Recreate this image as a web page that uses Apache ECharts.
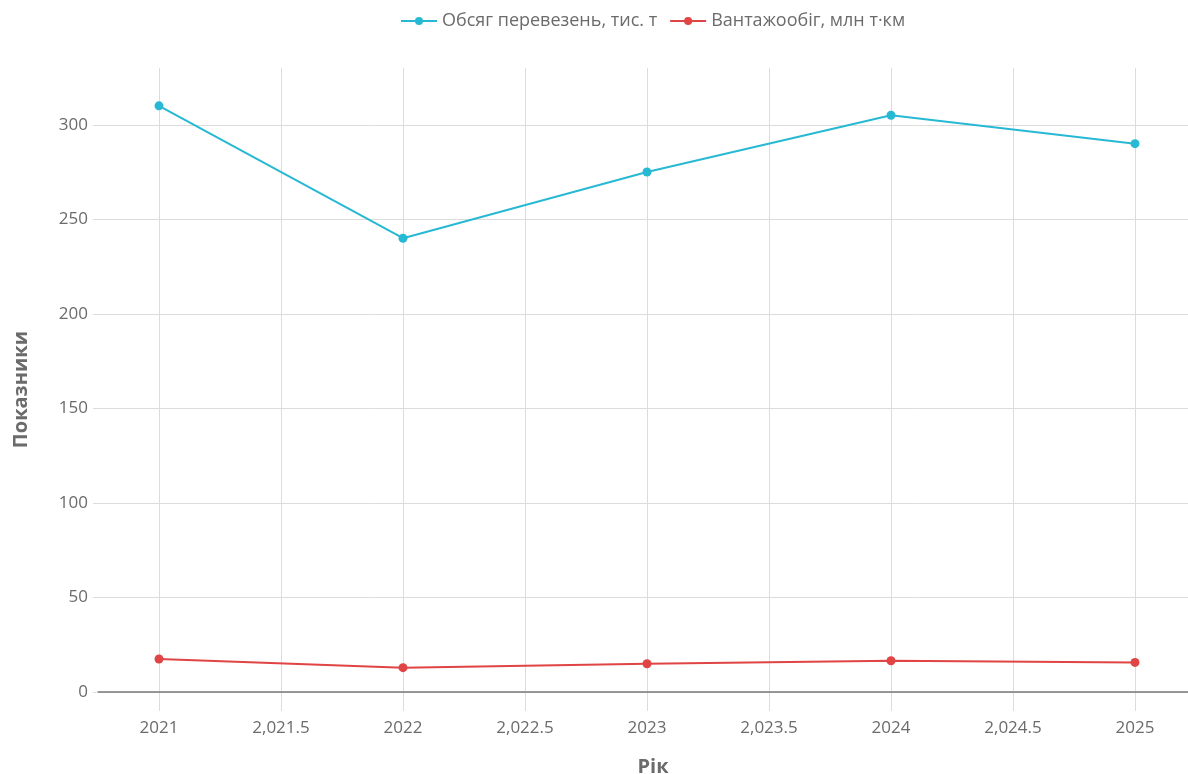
<!DOCTYPE html>
<html>
<head>
<meta charset="utf-8">
<script src="https://cdn.jsdelivr.net/npm/echarts@6/dist/echarts.min.js"></script>
<style>
html, body { margin: 0; padding: 0; background: #fff; }
#main { width: 1188px; height: 774px; }
</style>
</head>
<body>
<div id="main"></div>
<script>
var myChart = echarts.init(document.getElementById('main'));

// data
var years = [2021, 2022, 2023, 2024, 2025];
var volume = [310, 240, 275, 305, 290];        // Обсяг перевезень, тис. т
var turnover = [17.5, 12.9, 15.0, 16.6, 15.7]; // Вантажообіг, млн т·км
var seriesNames = ['Обсяг перевезень, тис. т', 'Вантажообіг, млн т·км'];

function pairs(xs, ys) {
    return xs.map(function (x, i) { return [x, ys[i]]; });
}

var font = '"Open Sans", Lato, sans-serif';
var gridColor = '#dcdcdc';
var textColor = '#6b6b6b';

var option = {
    backgroundColor: '#fff',
    textStyle: { fontFamily: font },
    legend: {
        top: 7,
        left: 395,
        itemWidth: 36,
        itemHeight: 10,
        itemGap: 12,
        textStyle: { color: textColor, fontSize: 18, fontFamily: font },
        data: seriesNames
    },
    grid: [
        // data grid + vertical lines
        { left: 159, right: 53, top: 68, bottom: 63, outerBoundsMode: 'none', containLabel: false },
        // horizontal lines + y labels
        { left: 98, right: 0, top: 125, bottom: 82, outerBoundsMode: 'none', containLabel: false }
    ],
    xAxis: [
        {
            gridIndex: 0,
            type: 'value',
            min: 2021,
            max: 2025,
            interval: 0.5,
            name: 'Рік',
            nameLocation: 'middle',
            nameGap: 46,
            nameTextStyle: { color: textColor, fontSize: 20, fontWeight: 'bold', fontFamily: font, padding: [0, 0, 0, 12] },
            axisLine: { show: false },
            axisTick: { show: false },
            axisLabel: {
                color: textColor,
                fontSize: 17,
                margin: 9,
                formatter: function (v) {
                    return Number.isInteger(v) ? String(v) : v.toLocaleString('en-US');
                }
            },
            splitLine: { show: true, lineStyle: { color: gridColor, width: 1 } }
        },
        {
            gridIndex: 1,
            type: 'value',
            min: 0,
            max: 1,
            axisLine: { show: true, onZero: false, lineStyle: { color: '#7a7a7a', width: 1.5 } },
            axisTick: { show: false },
            axisLabel: { show: false },
            splitLine: { show: false }
        }
    ],
    yAxis: [
        {
            gridIndex: 0,
            type: 'value',
            min: -10,
            max: 330,
            name: 'Показники',
            nameLocation: 'middle',
            nameGap: 128,
            nameTextStyle: { color: textColor, fontSize: 20, fontWeight: 'bold', fontFamily: font },
            axisLine: { show: false },
            axisTick: { show: false },
            axisLabel: { show: false },
            splitLine: { show: false }
        },
        {
            gridIndex: 1,
            type: 'value',
            min: 0,
            max: 300,
            interval: 50,
            axisLine: { show: false },
            axisTick: { show: true, length: 5, lineStyle: { color: gridColor } },
            axisLabel: { color: textColor, fontSize: 17, margin: 10 },
            splitLine: { show: true, lineStyle: { color: gridColor, width: 1 } }
        }
    ],
    series: [
        {
            name: seriesNames[0],
            type: 'line',
            xAxisIndex: 0,
            yAxisIndex: 0,
            data: pairs(years, volume),
            symbol: 'circle',
            symbolSize: 9,
            clip: false,
            itemStyle: { color: '#27b9d3' },
            lineStyle: { color: '#27b9d3', width: 2 }
        },
        {
            name: seriesNames[1],
            type: 'line',
            xAxisIndex: 0,
            yAxisIndex: 0,
            data: pairs(years, turnover),
            symbol: 'circle',
            symbolSize: 9,
            clip: false,
            itemStyle: { color: '#e04444' },
            lineStyle: { color: '#e04444', width: 2 }
        }
    ]
};

myChart.setOption(option);
</script>
</body>
</html>
